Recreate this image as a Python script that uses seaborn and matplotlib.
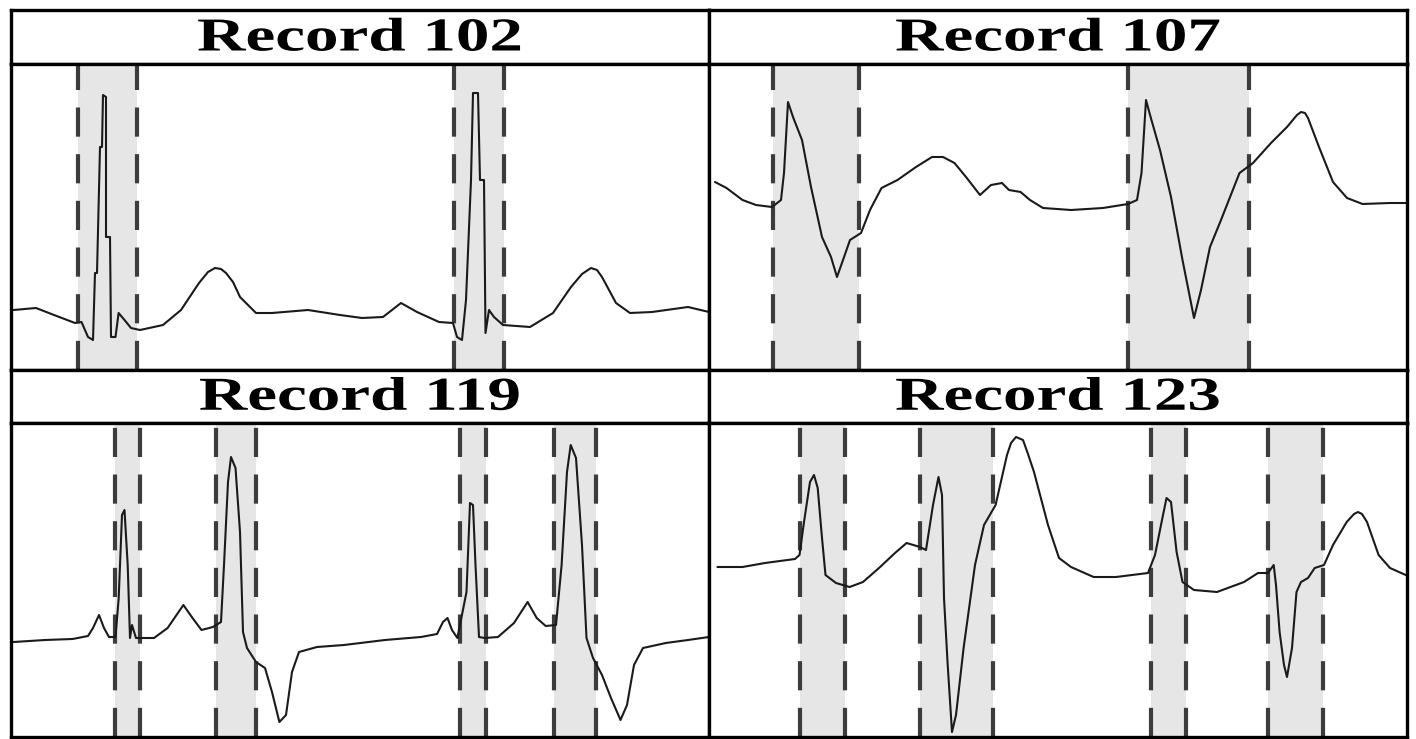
import matplotlib
matplotlib.use("Agg")
import matplotlib.pyplot as plt
import seaborn as sns
import pandas as pd
from matplotlib.patheffects import AbstractPathEffect
from matplotlib.transforms import Affine2D

# ---------------- data (time index, amplitude) ----------------
titles = ["Record 102", "Record 107", "Record 119", "Record 123"]

t102 = [2.6, 25, 43, 64, 70.5, 77, 82, 84, 86, 89, 91, 92, 95, 95, 99, 100, 104.5, 107.6, 113.5, 120,
        129, 152, 170, 188, 197, 204, 210, 215, 222, 229, 245, 261, 297, 329, 351, 372, 390, 406, 428,
        442, 446, 451, 455, 460, 462, 467, 469, 473, 474.5, 478, 483, 492, 519, 542, 560, 571, 580,
        586, 591, 605, 619, 641, 677, 698]
v102 = [60, 62, 55, 47, 48, 33, 30, 97, 97, 223, 223, 275, 273, 133, 133, 33, 33, 57, 50, 42,
        40, 45, 60, 87, 98, 102, 101, 97, 88, 73, 57, 57, 60, 55, 52, 53, 67, 58, 48,
        47, 33, 30, 70, 190, 277, 277, 190, 190, 37, 60, 53, 45, 43, 57, 83, 96, 102,
        100, 93, 67, 57, 58, 63, 58]
m102 = [(67, 126), (443, 493)]

t107 = [6, 17.5, 33.5, 47, 63, 72, 75, 79, 84, 93, 102, 113, 122, 128, 134, 141, 152, 161, 172.5,
        188.5, 207, 223, 234, 245.5, 257, 271, 282, 293, 300, 311.6, 321, 334, 362, 394, 419, 428,
        432.5, 437, 441.6, 451, 462, 473.5, 485, 492, 501, 512, 530.5, 544, 562, 578, 588, 592, 596,
        599, 610, 624, 638, 653.6, 681, 699]
v107 = [188, 182, 170, 165, 163, 170, 197, 268, 253, 230, 183, 133, 113, 93, 110, 130, 137, 160, 182,
        190, 203, 213, 213, 207, 193, 175, 185, 187, 180, 178, 170, 162, 160, 162, 166, 170,
        197, 270, 253, 220, 173, 110, 52, 80, 123, 150, 197, 207, 227, 243, 255, 258, 257,
        252, 223, 188, 172, 166, 167, 167]
m107 = [(64, 150), (419, 540)]

t119 = [2.6, 34, 61.5, 77, 82, 88, 93, 98, 104.5, 107.7, 111, 113.5, 116.7, 119, 121, 125, 143, 156.6,
        172.4, 181.5, 190.5, 202, 210, 213, 217, 220, 224.5, 229, 232, 236, 245, 254, 261, 268.4, 275,
        281, 288, 306, 333, 374, 410, 426, 432, 436.5, 441, 446.4, 455.5, 459, 462, 464.5, 468, 473.6,
        487, 503, 516.6, 525.7, 534.7, 545, 550.6, 556, 559.7, 565, 571, 575.5, 582, 591, 600, 609.5,
        616, 623, 632, 654.8, 677, 698]
v119 = [95, 97, 98, 101, 109, 122, 109, 100, 100, 139, 222, 227, 172, 99, 112, 99, 99, 109,
        132, 119, 107, 110, 115, 172, 255, 280, 269, 205, 105, 89, 75, 69, 45, 15, 22,
        65, 85, 90, 92, 97, 100, 103, 115, 119, 107, 99, 145, 234, 232, 172, 100, 99,
        100, 114, 135, 119, 111, 112, 172, 265, 292, 279, 192, 99, 79, 62, 39, 17,
        32, 72, 89, 94, 97, 100]
m119 = [(104, 129), (205, 245), (449, 475), (543, 585)]

t123 = [8.4, 33.5, 56, 86, 90.5, 95, 101, 105, 108.7, 113, 116.5, 127, 140.6, 154, 170, 186, 197.6,
        211, 217, 224, 229.5, 233, 235, 238.7, 243, 247, 254.6, 266, 275, 286.6, 298, 302, 307, 314,
        319, 325, 339, 350, 362, 384.6, 407, 439, 446, 452, 457.5, 462, 467.6, 473.5, 485, 508, 535,
        549, 559, 564.7, 567, 570.6, 575, 578, 583, 587.5, 592, 599, 605.7, 615, 624, 637.7, 645, 649,
        653, 658, 669.6, 681, 699]
v123 = [170, 170, 174, 178, 182, 215, 255, 262, 249, 199, 162, 154, 150, 155, 169, 184, 194,
        190, 187, 232, 260, 242, 139, 72, 5, 22, 89, 172, 212, 232, 282, 294, 300, 297,
        283, 265, 212, 179, 170, 160, 160, 164, 182, 212, 239, 235, 185, 155, 147, 145, 155,
        164, 164, 172, 152, 105, 72, 60, 89, 145, 155, 159, 169, 172, 192, 215, 223, 225,
        223, 215, 182, 169, 161]
m123 = [(91, 136), (211, 284), (442, 477), (559, 614)]

series = [(t102, v102, m102), (t107, v107, m107), (t119, v119, m119), (t123, v123, m123)]

# ---------------- styling ----------------
sns.set_theme(style="white")
W, H = 1416, 739
fig = plt.figure(figsize=(W / 100, H / 100), dpi=100)
fig.patch.set_facecolor("white")

FRAME_LW = 2.4
cols = [(11, 709), (709, 1407)]
rows = [((10, 64), (64, 370)), ((370, 423), (423, 737))]


def frac(x0, x1, y0, y1):
    return [x0 / W, 1 - y1 / H, (x1 - x0) / W, (y1 - y0) / H]


class HStretch(AbstractPathEffect):
    """Widen glyphs horizontally about the title axes centre."""

    def __init__(self, ax, sx):
        super().__init__()
        self.ax = ax
        self.sx = sx

    def draw_path(self, renderer, gc, tpath, affine, rgbFace=None):
        cx = self.ax.transAxes.transform((0.5, 0.5))[0]
        aff = affine + Affine2D().translate(-cx, 0).scale(self.sx, 1).translate(cx, 0)
        renderer.draw_path(gc, tpath, aff, rgbFace)


for i, (t, v, marks) in enumerate(series):
    r, c = divmod(i, 2)
    (tx0, tx1) = cols[c]
    (ty, py) = rows[r]

    tax = fig.add_axes(frac(tx0, tx1, ty[0], ty[1]))
    tax.set_xticks([])
    tax.set_yticks([])
    tax.set_facecolor("white")
    for s in tax.spines.values():
        s.set_visible(True)
        s.set_linewidth(FRAME_LW)
        s.set_color("black")
    tax.text(0.5, 0.25, titles[i], transform=tax.transAxes, ha="center", va="baseline",
             fontsize=34, fontweight="bold", fontfamily="Liberation Serif", color="black",
             path_effects=[HStretch(tax, 1.42)])

    ax = fig.add_axes(frac(tx0, tx1, py[0], py[1]))
    ax.set_facecolor("white")
    height = py[1] - py[0]
    width = tx1 - tx0
    for (a, b) in marks:
        ax.axvspan(a, b, color="#e6e6e6", lw=0, zorder=0)
        for xm in (a, b):
            ax.axvline(xm, color="#3c3c3c", lw=3, dashes=(7, 4.2), zorder=2)
    df = pd.DataFrame({"t": t, "v": v})
    sns.lineplot(data=df, x="t", y="v", sort=False, estimator=None, ax=ax,
                 color="#1a1a1a", lw=1.5, zorder=3)
    ax.set_xlim(0, width)
    ax.set_ylim(0, height)
    ax.set_xticks([])
    ax.set_yticks([])
    ax.set_xlabel("")
    ax.set_ylabel("")
    for s in ax.spines.values():
        s.set_visible(True)
        s.set_linewidth(FRAME_LW)
        s.set_color("black")
        s.set_zorder(5)

fig.savefig("out.png", dpi=100, facecolor="white")
